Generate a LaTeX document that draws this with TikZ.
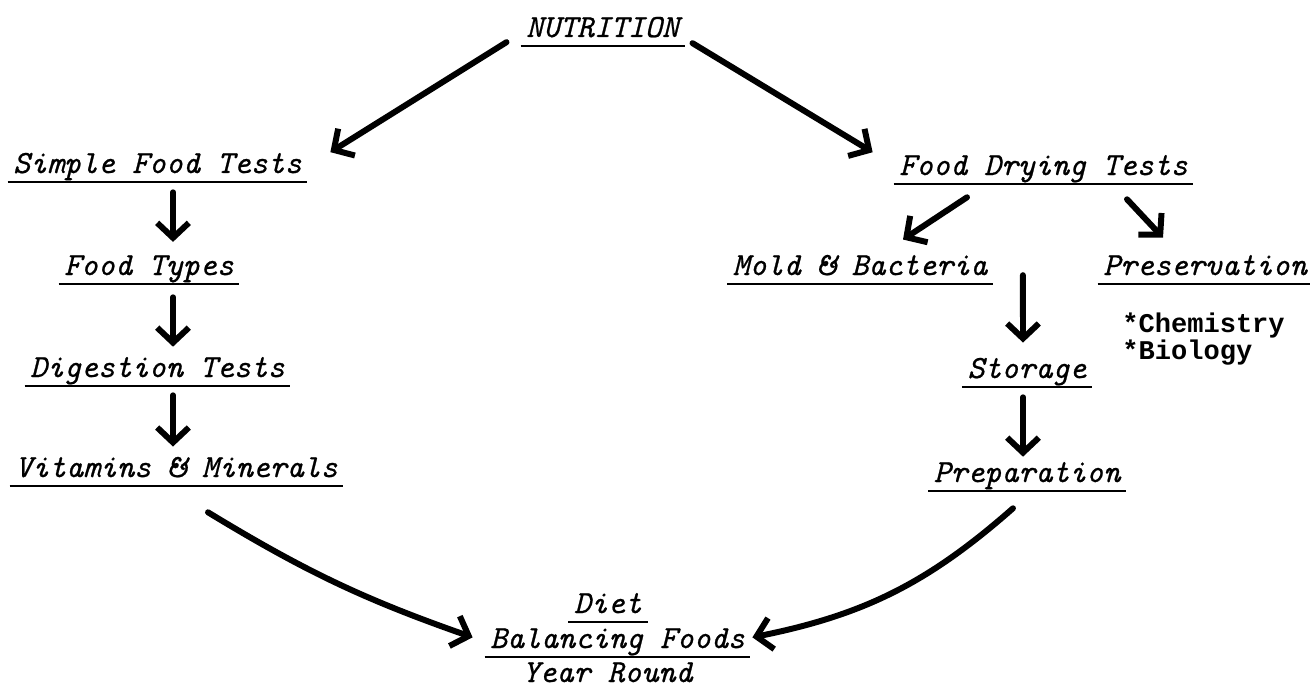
\documentclass[tikz,border=0pt]{standalone}
\usepackage{fontspec}
\newfontfamily\notefont{Liberation Mono}
\newfontfamily\typeit{lmmono10-italic.otf}[FakeBold=0.7]
\usetikzlibrary{arrows.meta}
\begin{document}
\begin{tikzpicture}[x=0.02cm,y=-0.02cm,
  lbl/.style={font=\typeit\fontsize{18.4}{22}\selectfont, anchor=base,
    inner xsep=3pt, inner ysep=0pt, text depth=4.8pt},
  ul/.style={lbl, append after command={(\tikzlastnode.south west) edge[draw, line width=1.3pt, -] (\tikzlastnode.south east)}},
  arr/.style={line width=3.4pt, line cap=round, -{Straight Barb[length=8.5pt,width=18pt]}},
  note/.style={font=\notefont\bfseries\fontsize{15.4}{18}\selectfont, anchor=base west, inner sep=0pt}]
\useasboundingbox (0,0) rectangle (1310,689);
% nodes
\node[ul] (nut) at (602.5,37) {NUTRITION};
\node[ul] (sft) at (157.5,173) {Simple Food Tests};
\node[ul] (ft) at (149,275) {Food Types};
\node[ul] (dt) at (157.5,377) {Digestion Tests};
\node[ul] (vm) at (176.5,477) {Vitamins \& Minerals};
\node[ul] (fdt) at (1043.5,175) {Food Drying Tests};
\node[ul] (mb) at (860,275) {Mold \& Bacteria};
\node[ul] (pres) at (1205,275) {Preservation};
\node[note] (chem) at (1122,332) {*Chemistry};
\node[note] (bio) at (1122,359) {*Biology};
\node[ul] (sto) at (1027,378) {Storage};
\node[ul] (prep) at (1027,482) {Preparation};
\node[ul] (diet) at (608,613) {Diet};
\node[ul] (bal) at (617.5,648) {Balancing Foods};
\node[lbl] (yr) at (607.5,682) {Year Round};
% connectors
\draw[arr] ([shift={(-14,11)}]nut.west) -- ([shift={(23,-15)}]sft.east);
\draw[arr] ([shift={(8,12)}]nut.east) -- ([shift={(-21,-17)}]fdt.west);
\draw[arr] ([shift={(15.5,10.5)}]sft.south) -- ([shift={(24,-13)}]ft.north);
\draw[arr] ([shift={(24,13.5)}]ft.south) -- ([shift={(15.5,-10)}]dt.north);
\draw[arr] ([shift={(15.5,9.5)}]dt.south) -- ([shift={(-3.5,-10)}]vm.north);
\draw[arr] ([shift={(-76.5,13.5)}]fdt.south) -- ([shift={(43,-15)}]mb.north);
\draw[arr] ([shift={(83.5,15.5)}]fdt.south) -- ([shift={(-42,-17)}]pres.north);
\draw[arr] ([shift={(30,6)}]mb.east) -- ([shift={(-4,-15)}]sto.north);
\draw[arr] ([shift={(-4,10.5)}]sto.south) -- ([shift={(-4,-5)}]prep.north);
\draw[arr] ([shift={(31.5,26.5)}]vm.south) to[bend right=6] ([shift={(-12,-5)}]bal.west);
\draw[arr] ([shift={(-14,17.5)}]prep.south) to[bend left=15] ([shift={(2,-5)}]bal.east);
\end{tikzpicture}
\end{document}
